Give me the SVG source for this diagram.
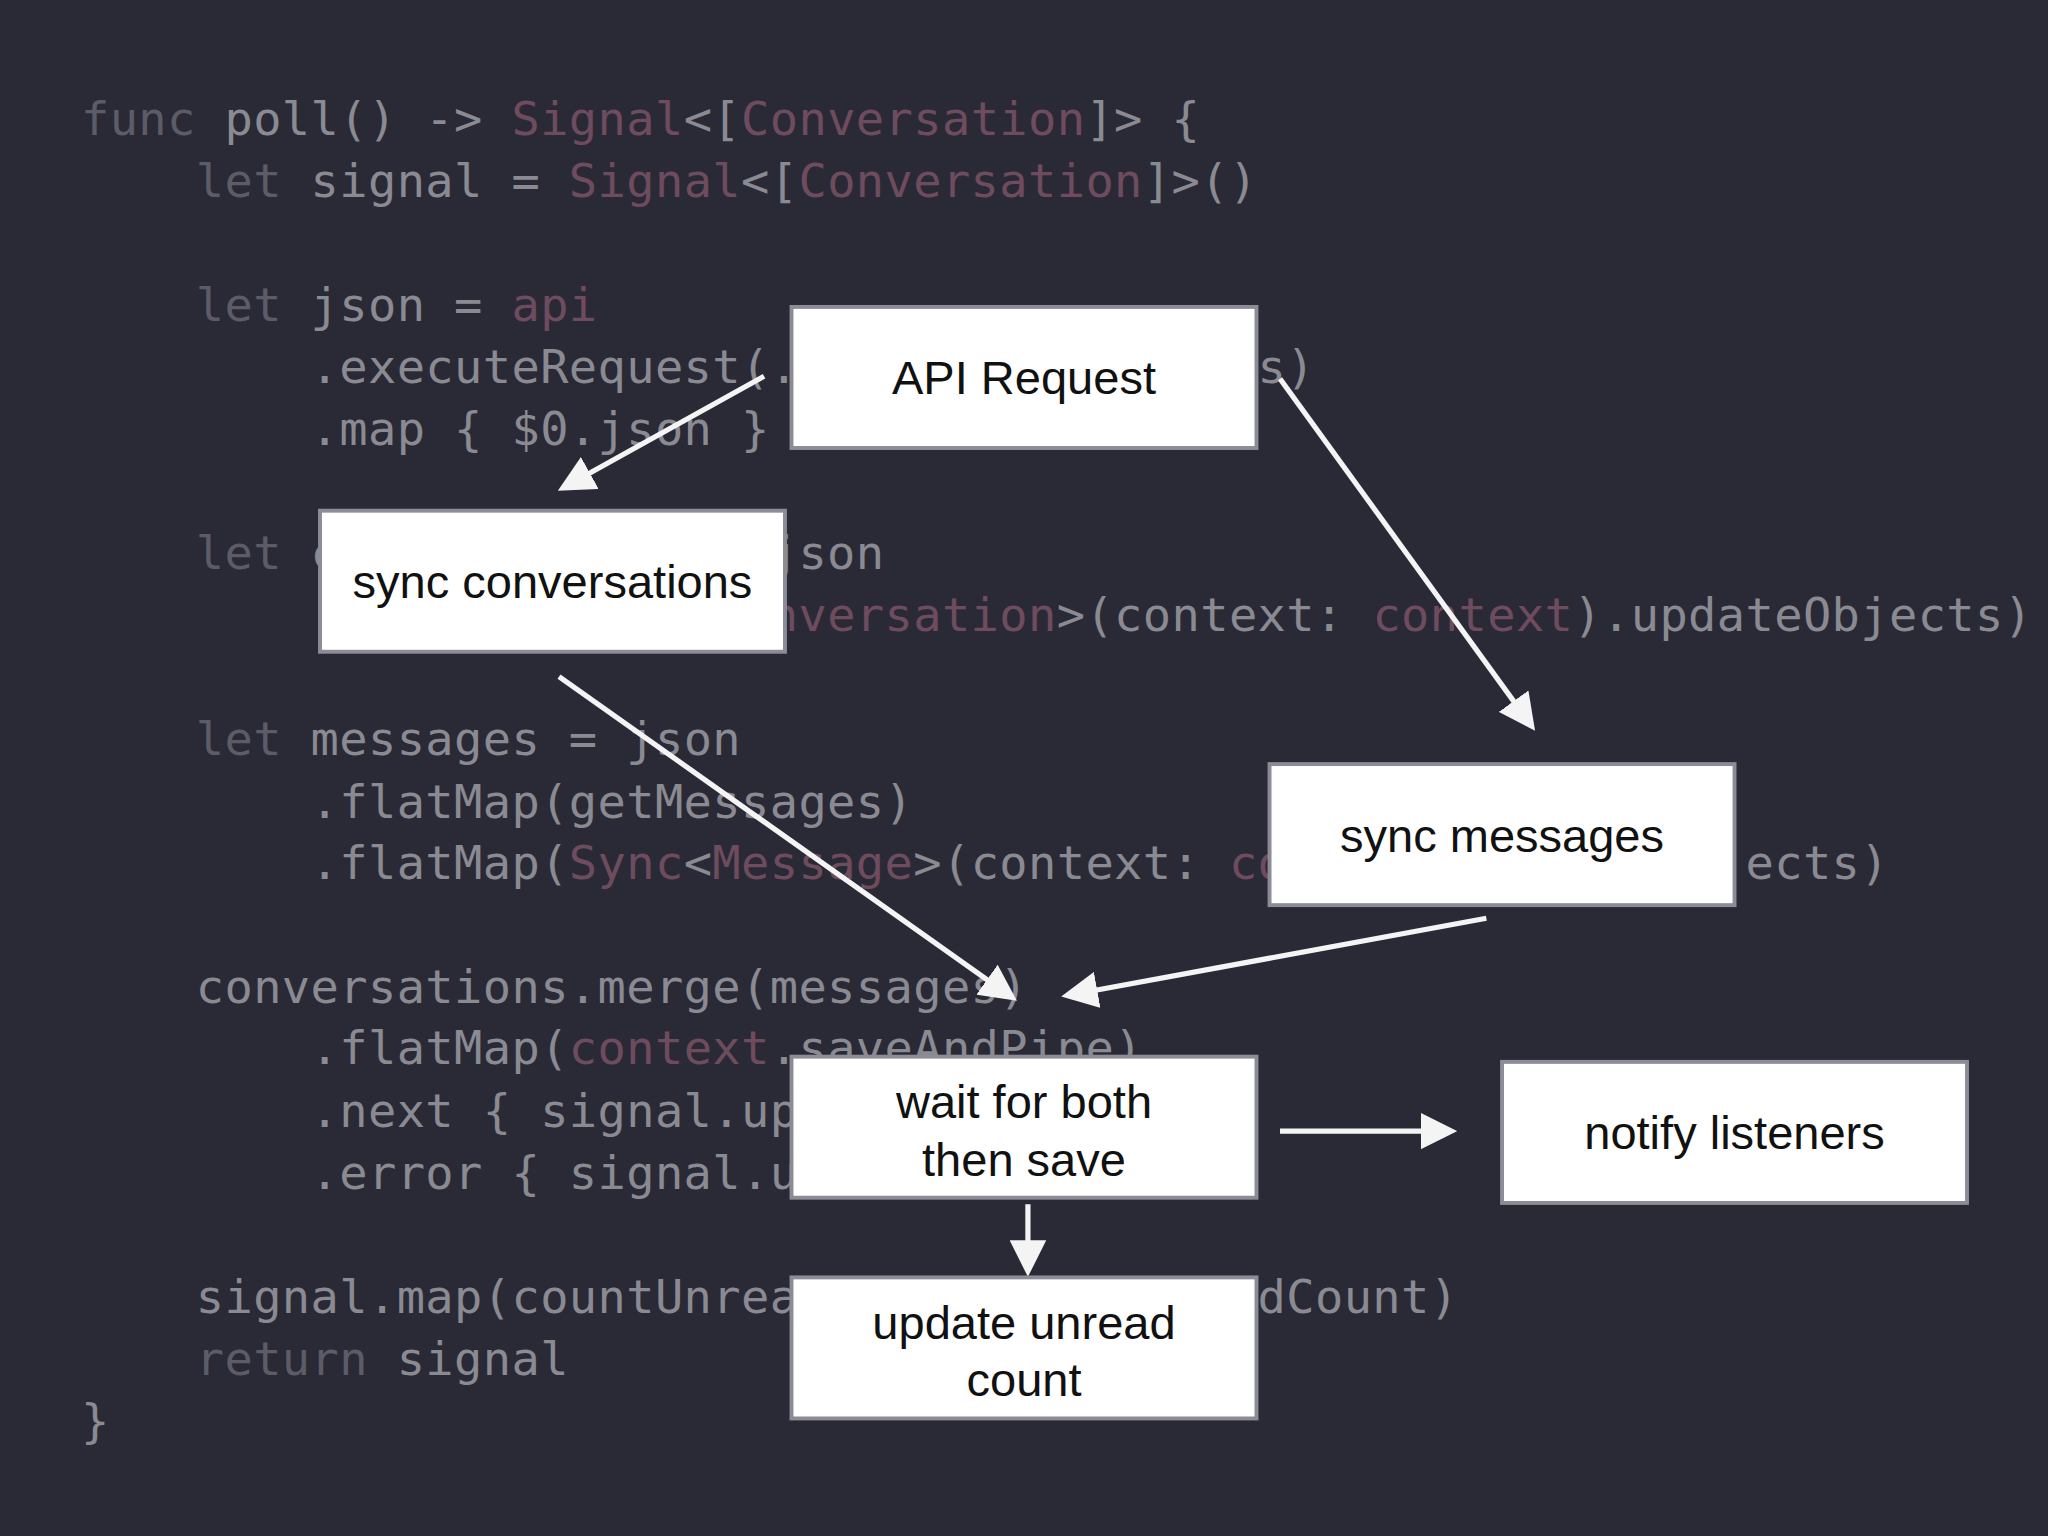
<svg xmlns="http://www.w3.org/2000/svg" width="2048" height="1536" viewBox="0 0 2048 1536">
<defs>
<style>
.code{font-family:"DejaVu Sans Mono","Liberation Mono",monospace;font-size:36px;letter-spacing:0.3px;fill:#8a8a92;white-space:pre}
.k{fill:#5c5c68}.t{fill:#6e4c5e}
.box{fill:#fff;stroke:#8c8c96;stroke-width:3}
.lbl{font-family:"Liberation Sans",Arial,sans-serif;font-size:36px;fill:#111;text-anchor:middle}
.arr{stroke:#f4f4f4;stroke-width:4;fill:none;marker-end:url(#ah)}
</style>
<marker id="ah" viewBox="0 0 10 10" refX="8" refY="5" markerWidth="7" markerHeight="7" markerUnits="strokeWidth" orient="auto"><path d="M0,0 L10,5 L0,10 Z" fill="#f4f4f4"/></marker>
</defs>
<rect width="2048" height="1536" fill="#2a2a36"/>
<g transform="scale(1.30612)">
<g id="code" class="code">
<text x="62" y="103"><tspan class="k">func</tspan> poll() -&gt; <tspan class="t">Signal</tspan>&lt;[<tspan class="t">Conversation</tspan>]&gt; {</text>
<text x="62" y="151" xml:space="preserve">    <tspan class="k">let</tspan> signal = <tspan class="t">Signal</tspan>&lt;[<tspan class="t">Conversation</tspan>]&gt;()</text>
<text x="62" y="246" xml:space="preserve">    <tspan class="k">let</tspan> json = <tspan class="t">api</tspan></text>
<text x="62" y="293" xml:space="preserve">        .executeRequest(.pollConversations)</text>
<text x="62" y="341" xml:space="preserve">        .map { $0.json }</text>
<text x="62" y="436" xml:space="preserve">    <tspan class="k">let</tspan> conversations = json</text>
<text x="62" y="483" xml:space="preserve">        .flatMap(<tspan class="t">Sync</tspan>&lt;<tspan class="t">Conversation</tspan>&gt;(context: <tspan class="t">context</tspan>).updateObjects)</text>
<text x="62" y="578" xml:space="preserve">    <tspan class="k">let</tspan> messages = json</text>
<text x="62" y="626" xml:space="preserve">        .flatMap(getMessages)</text>
<text x="62" y="673" xml:space="preserve">        .flatMap(<tspan class="t">Sync</tspan>&lt;<tspan class="t">Message</tspan>&gt;(context: <tspan class="t">context</tspan>).updateObjects)</text>
<text x="62" y="768" xml:space="preserve">    conversations.merge(messages)</text>
<text x="62" y="815" xml:space="preserve">        .flatMap(<tspan class="t">context</tspan>.saveAndPipe)</text>
<text x="62" y="863" xml:space="preserve">        .next { signal.update(value) }</text>
<text x="62" y="910" xml:space="preserve">        .error { signal.update(error) }</text>
<text x="62" y="1005" xml:space="preserve">    signal.map(countUnread).next(setUnreadCount)</text>
<text x="62" y="1053" xml:space="preserve">    <tspan class="k">return</tspan> signal</text>
<text x="62" y="1100">}</text>
</g>
<g id="connectors">
<path class="arr" d="M585,288 L432,373"/>
<path class="arr" d="M980,290 L1172,555"/>
<path class="arr" d="M428,518 L774,763"/>
<path class="arr" d="M1138,703 L818,762"/>
<path class="arr" d="M980,866 L1110,866"/>
<path class="arr" d="M787,922 L787,972"/>
</g>
<g id="api"><rect class="box" x="606" y="235" width="356" height="108"/><text class="lbl" x="784" y="302">API Request</text></g>
<g id="syncconv"><rect class="box" x="245" y="391" width="356" height="108"/><text class="lbl" x="423" y="458">sync conversations</text></g>
<g id="syncmsg"><rect class="box" x="972" y="585" width="356" height="108"/><text class="lbl" x="1150" y="652">sync messages</text></g>
<g id="wait"><rect class="box" x="606" y="809" width="356" height="108"/><text class="lbl" x="784" y="856">wait for both</text><text class="lbl" x="784" y="900">then save</text></g>
<g id="notify"><rect class="box" x="1150" y="813" width="356" height="108"/><text class="lbl" x="1328" y="880">notify listeners</text></g>
<g id="unread"><rect class="box" x="606" y="978" width="356" height="108"/><text class="lbl" x="784" y="1025">update unread</text><text class="lbl" x="784" y="1069">count</text></g>
</g>
</svg>
